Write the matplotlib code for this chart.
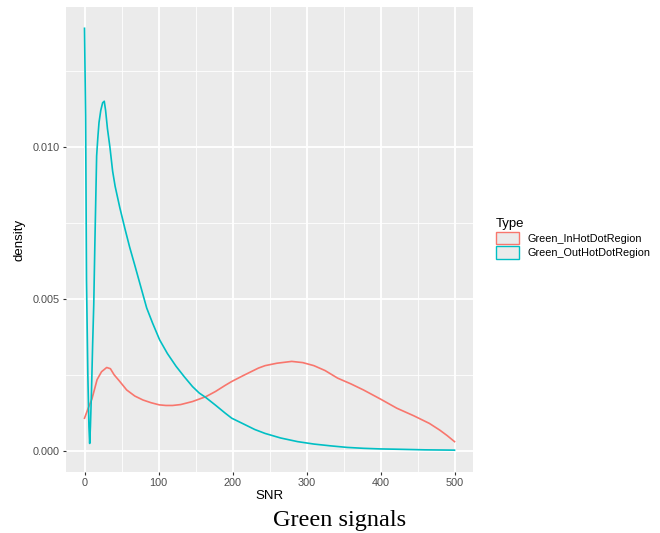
import matplotlib.pyplot as plt
from matplotlib.patches import Patch

# density curves
snr_out = [0, 1.5, 2.7, 4.5, 6, 7, 8, 9.5, 11, 12.5, 14, 15, 16.4, 18, 19.6,
           22, 24.5, 26.7, 28.5, 31, 34.3, 38, 41.4, 47.7, 54.7, 61, 68, 76,
           84, 92, 101.5, 112, 123.7, 135, 146, 155, 164, 177, 190, 199, 215,
           230, 244, 265, 288, 310, 333, 355, 377, 400, 422, 460, 500]
dens_out = [0.0139, 0.0110, 0.0056, 0.0025, 0.0008, 0.00024, 0.0008, 0.0020,
            0.0035, 0.0048, 0.0068, 0.0080, 0.0097, 0.0103, 0.0108, 0.0112,
            0.01145, 0.0115, 0.0112, 0.0106, 0.0100, 0.0092, 0.0087, 0.0080,
            0.0073, 0.0067, 0.0061, 0.0054, 0.0047, 0.0042, 0.00365, 0.0032,
            0.00278, 0.00243, 0.00211, 0.0019, 0.00175, 0.0015, 0.00124,
            0.00107, 0.00088, 0.0007, 0.00057, 0.00042, 0.0003, 0.00022,
            0.00016, 0.00011, 0.00008, 0.00006, 0.00005, 0.00003, 0.00002]

snr_in = [0, 5, 10, 17, 23, 30, 35, 40, 47, 57, 68, 79, 90, 101, 110, 119, 130,
          146, 164, 177, 190, 199, 215, 235, 244, 260, 280, 295, 310, 325, 342,
          360, 377, 400, 422, 445, 466, 480, 490, 500]
dens_in = [0.00107, 0.0014, 0.0017, 0.00234, 0.0026, 0.00274, 0.0027, 0.0025,
           0.0023, 0.0020, 0.0018, 0.00167, 0.00158, 0.00151, 0.00149, 0.00149,
           0.00152, 0.00162, 0.00178, 0.00195, 0.00215, 0.00228, 0.00248,
           0.00272, 0.0028, 0.00288, 0.00294, 0.0029, 0.0028, 0.00264, 0.00239,
           0.0022, 0.0020, 0.0017, 0.0014, 0.00115, 0.0009, 0.00068, 0.0005,
           0.0003]

series = ["Green_InHotDotRegion", "Green_OutHotDotRegion"]
colors = ["#F8766D", "#00BFC4"]

plt.rcParams["font.family"] = ["Liberation Sans", "DejaVu Sans"]

fig = plt.figure(figsize=(6.6, 5.33), dpi=100)
ax = fig.add_axes([0.1, 0.1144, 0.6167, 0.8724])
ax.set_facecolor("#EBEBEB")
for s in ax.spines.values():
    s.set_visible(False)

ax.plot(snr_in, dens_in, color=colors[0], lw=1.2, zorder=3)
ax.plot(snr_out, dens_out, color=colors[1], lw=1.2, zorder=3)

ax.set_xlim(-25, 525)
ax.set_ylim(-0.0007, 0.0146)
ax.set_xticks([0, 100, 200, 300, 400, 500])
ax.set_xticks([50, 150, 250, 350, 450], minor=True)
ax.set_yticks([0, 0.005, 0.010])
ax.set_yticklabels(["0.000", "0.005", "0.010"])
ax.set_yticks([0.0025, 0.0075, 0.0125], minor=True)
ax.grid(which="major", color="white", lw=1.3)
ax.grid(which="minor", color="white", lw=0.6)
ax.set_axisbelow(True)
ax.tick_params(which="major", length=2.5, width=0.8, color="#333333",
               labelsize=7.8, labelcolor="#4D4D4D", pad=2)
ax.tick_params(which="minor", length=0)

ax.set_xlabel("SNR", fontsize=9.5, labelpad=1)
ax.set_ylabel("density", fontsize=9.5, labelpad=5)

handles = [Patch(facecolor="#EBEBEB", edgecolor=c, lw=1.0) for c in colors]
leg = fig.legend(handles, series, title="Type", loc="upper left",
                 bbox_to_anchor=(0.745, 0.6), frameon=False, fontsize=7.8,
                 title_fontsize=9.5, handlelength=2.1, handleheight=1.4,
                 labelspacing=0.2, handletextpad=0.8, borderaxespad=0)
leg._legend_box.align = "left"

fig.text(0.515, 0.014, "Green signals", family="Liberation Serif",
         fontsize=17.5, ha="center", va="baseline")

fig.savefig("out.png", dpi=100)
